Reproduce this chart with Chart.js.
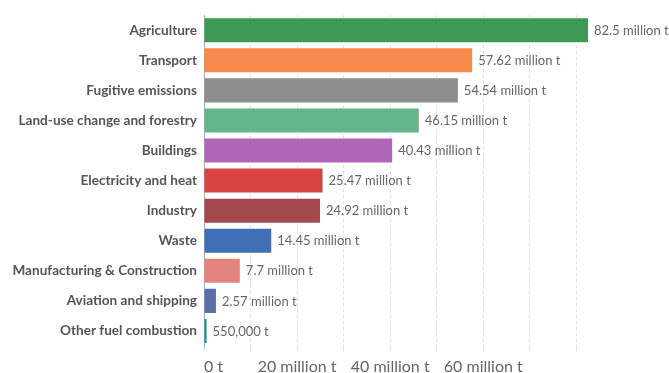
<!DOCTYPE html>
<html>
<head>
<meta charset="utf-8">
<script src="https://cdn.jsdelivr.net/npm/chart.js@4/dist/chart.umd.min.js"></script>
<style>
  html, body { margin: 0; padding: 0; background: #fff; }
  #wrap { width: 669px; height: 373px; position: relative; }
</style>
</head>
<body>
<div id="wrap"><canvas id="c" width="669" height="373"></canvas></div>
<script>
const categories = [
  "Agriculture", "Transport", "Fugitive emissions", "Land-use change and forestry",
  "Buildings", "Electricity and heat", "Industry", "Waste",
  "Manufacturing & Construction", "Aviation and shipping", "Other fuel combustion"
];
// emissions, million tonnes
const emissions = [82.5, 57.62, 54.54, 46.15, 40.43, 25.47, 24.92, 14.45, 7.7, 2.57, 0.55];
const valueLabels = [
  "82.5 million t", "57.62 million t", "54.54 million t", "46.15 million t",
  "40.43 million t", "25.47 million t", "24.92 million t", "14.45 million t",
  "7.7 million t", "2.57 million t", "550,000 t"
];
const xTickLabels = { 0: "0 t", 20: "20 million t", 40: "40 million t", 60: "60 million t" };

const barColors = [
  "#3d9a56", "#f7894a", "#8e8e8e", "#64b58e", "#b066b8", "#d54343",
  "#a3484f", "#3f6fb4", "#e3857c", "#5b70a8", "#0e93a5"
];

const valueLabelPlugin = {
  id: 'valueLabels',
  afterDatasetsDraw(chart) {
    const ctx = chart.ctx;
    const meta = chart.getDatasetMeta(0);
    ctx.save();
    ctx.font = '13px Lato';
    ctx.fillStyle = '#666';
    ctx.textAlign = 'left';
    ctx.textBaseline = 'middle';
    meta.data.forEach((bar, i) => {
      ctx.fillText(valueLabels[i], bar.x + 6, bar.y + 0.5);
    });
    ctx.restore();
  }
};

new Chart(document.getElementById('c'), {
  type: 'bar',
  data: {
    labels: categories,
    datasets: [{
      data: emissions,
      backgroundColor: barColors,
      borderWidth: 0,
      barPercentage: 0.8,
      categoryPercentage: 1.0
    }]
  },
  options: {
    indexAxis: 'y',
    responsive: false,
    animation: false,
    devicePixelRatio: 1,
    layout: { padding: { top: 12, right: 81, left: 0, bottom: 0 } },
    plugins: { legend: { display: false }, tooltip: { enabled: false } },
    scales: {
      x: {
        min: 0,
        max: 82.5,
        ticks: {
          stepSize: 10,
          includeBounds: false,
          autoSkip: false,
          maxRotation: 0,
          align: 'inner',
          color: '#666',
          font: { family: 'Lato', size: 16 },
          padding: 6,
          callback: v => xTickLabels[v] || ''
        },
        grid: { color: '#dcdcdc', lineWidth: 1, drawTicks: true, tickLength: 5 },
        border: { display: false, dash: [3, 3] },
        afterFit(scale) { scale.height = 27; }
      },
      y: {
        ticks: {
          color: '#555',
          font: { family: 'Lato', size: 13.6, weight: 'bold' },
          padding: 7,
          autoSkip: false
        },
        grid: { display: false, drawTicks: false },
        border: { display: true, color: '#aaa', width: 1 },
        afterFit(scale) { scale.width = 204; }
      }
    }
  },
  plugins: [valueLabelPlugin]
});
</script>
</body>
</html>
